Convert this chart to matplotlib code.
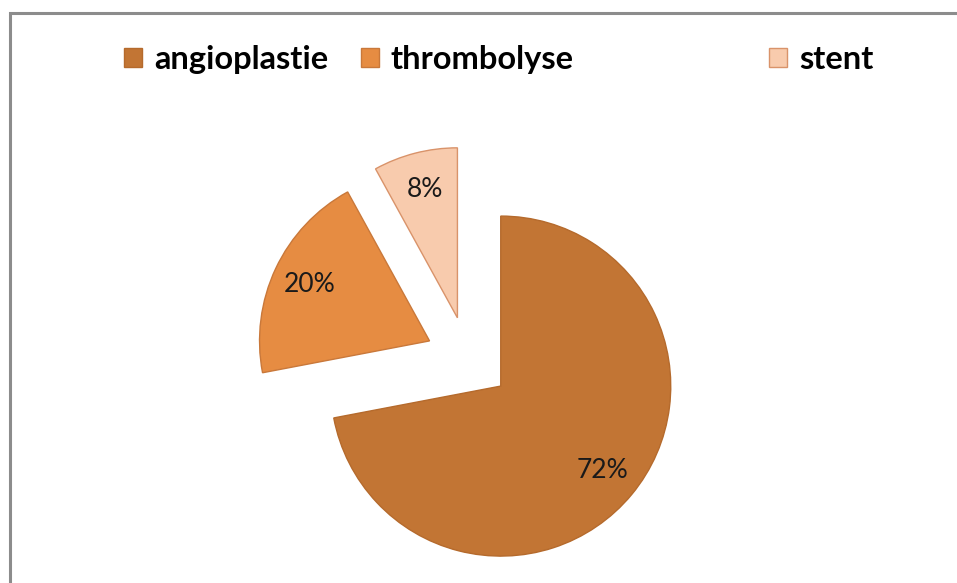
import matplotlib.pyplot as plt
from matplotlib.patches import Rectangle, Patch

# Data
labels = ['angioplastie', 'thrombolyse', 'stent']
values = [72, 20, 8]
colors = ['#C27534', '#E68C42', '#F8CBAD']
edges = ['#B56A2C', '#C9783A', '#D9936A']

fig = plt.figure(figsize=(9.57, 5.83), dpi=100)
ax = fig.add_axes([0, 0, 1, 1])

wedges, texts, autotexts = ax.pie(
    values, explode=[0.25, 0.25, 0.25], colors=colors,
    startangle=90, counterclock=False, autopct='%1.0f%%',
    pctdistance=0.78, wedgeprops=dict(linewidth=1),
    textprops=dict(fontsize=19, family='Lato', color='#1a1a1a'))
for w, ec in zip(wedges, edges):
    w.set_edgecolor(ec)

# pie radius = 170 px, pie centre at (468, 359) px from top-left
r = 170.0
cx, cy = 468.0, 359.0
ax.set_xlim(-cx / r, (957 - cx) / r)
ax.set_ylim(-(583 - cy) / r, cy / r)
ax.set_aspect('auto')
ax.axis('off')

# chart border (top and left visible)
fig.patches.append(Rectangle((9.5 / 957, -0.1), 1.2, (583 - 13.0) / 583 + 0.1,
                             transform=fig.transFigure, fill=False,
                             edgecolor='#8c8c8c', linewidth=2.2))

# legend
handles = [Patch(facecolor=c, edgecolor=e, linewidth=1) for c, e in zip(colors, edges)]
lprops = dict(family='Lato', weight='bold', size=23.5)
common = dict(loc='upper left', frameon=False, prop=lprops, borderpad=0,
              borderaxespad=0, handlelength=0.56, handleheight=0.56,
              handletextpad=0.36)
leg1 = fig.legend(handles[:2], labels[:2], ncol=2,
                  bbox_to_anchor=(124 / 957, 1 - 45 / 583),
                  columnspacing=1.0, **common)
leg2 = fig.legend(handles[2:], labels[2:],
                  bbox_to_anchor=(769 / 957, 1 - 45 / 583), **common)

fig.savefig('out.png', dpi=100)
